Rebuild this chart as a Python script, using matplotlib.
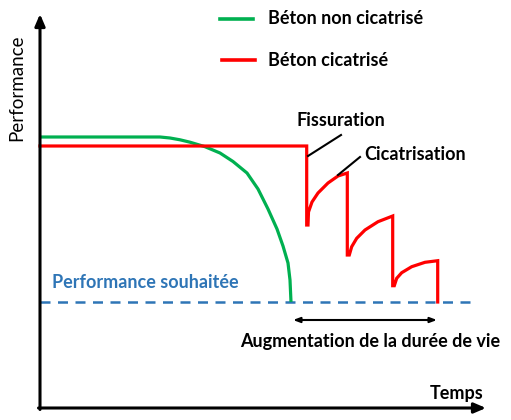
import matplotlib.pyplot as plt

# schematic units: t = time, p = performance (origin at the axes corner)
t_green = [0, 120, 130, 140, 150, 165, 180, 193, 207, 218, 228, 237, 243, 248, 250, 251]
p_green = [271, 271, 270, 268.2, 265.8, 261.3, 255, 246.5, 235, 219, 199, 179, 162, 145, 128, 106]

t_red = [0, 266.7, 266.7, 268, 268.5, 272, 278, 288, 298, 307.3,
         307.3, 309.3, 311.7, 316.7, 325, 338, 352.7,
         352.7, 354.3, 356.7, 361.7, 371.7, 385, 397.7, 397.7]
p_red = [262, 262, 183, 183, 196, 206, 215, 225, 232, 235,
         153, 153, 161.3, 169.7, 178, 186.3, 192,
         122.3, 122.3, 129.7, 135.3, 141.3, 145.7, 147.3, 106]

seuil = 106          # performance souhaitée
t_seuil_fin = 435
t_vie = [253, 397]   # augmentation de la durée de vie
p_vie = 88

GREEN = '#00B050'
RED = '#FF0000'
BLUE = '#2E75B6'
FONT = 'Lato'
FS = 13

fig = plt.figure(figsize=(5.11, 4.20), dpi=100)
ax = fig.add_axes([0, 0, 1, 1])
ax.set_xlim(-40, 471)
ax.set_ylim(-12, 408)
ax.axis('off')

# axes with arrows
ax.annotate('', xy=(0, 394), xytext=(0, -1.5),
            arrowprops=dict(arrowstyle='-|>,head_length=0.7,head_width=0.3', lw=2.2, color='black', shrinkA=0, shrinkB=0))
ax.annotate('', xy=(446, 0), xytext=(-1.5, 0),
            arrowprops=dict(arrowstyle='-|>,head_length=0.7,head_width=0.3', lw=2.2, color='black', shrinkA=0, shrinkB=0))

# threshold
ax.plot([0, t_seuil_fin], [seuil, seuil], color=BLUE, lw=1.8, dashes=(4, 3))
ax.text(12, 125, 'Performance souhaitée', color=BLUE, fontsize=FS, fontweight='bold',
        family=FONT, va='center', ha='left')

# curves
ax.plot(t_green, p_green, color=GREEN, lw=2.3, solid_capstyle='butt')
ax.plot(t_red, p_red, color=RED, lw=2.3, solid_joinstyle='miter')

# legend
ax.plot([180, 213], [389, 389], color=GREEN, lw=2.6)
ax.text(228, 389, 'Béton non cicatrisé', fontsize=FS, fontweight='bold', family=FONT, va='center')
ax.plot([182, 215], [348, 348], color=RED, lw=2.6)
ax.text(228, 348, 'Béton cicatrisé', fontsize=FS, fontweight='bold', family=FONT, va='center')

# annotations
ax.plot([268, 301], [252, 273], color='black', lw=1.5)
ax.text(257, 287, 'Fissuration', fontsize=FS, fontweight='bold', family=FONT, va='center')
ax.plot([298, 320], [233, 251], color='black', lw=1.5)
ax.text(324, 253, 'Cicatrisation', fontsize=FS, fontweight='bold', family=FONT, va='center')

ax.annotate('', xy=(t_vie[1], p_vie), xytext=(t_vie[0], p_vie),
            arrowprops=dict(arrowstyle='<|-|>,head_length=0.4,head_width=0.15', lw=1.5, color='black', shrinkA=0, shrinkB=0))
ax.text(330, 66, 'Augmentation de la durée de vie', fontsize=FS, fontweight='bold',
        family=FONT, va='center', ha='center')

ax.text(443, 15, 'Temps', fontsize=FS, fontweight='bold', family=FONT, va='center', ha='right')
ax.text(-23, 320, 'Performance', fontsize=13.5, family=FONT, rotation=90, va='center', ha='center')

fig.savefig('out.png', dpi=100)
